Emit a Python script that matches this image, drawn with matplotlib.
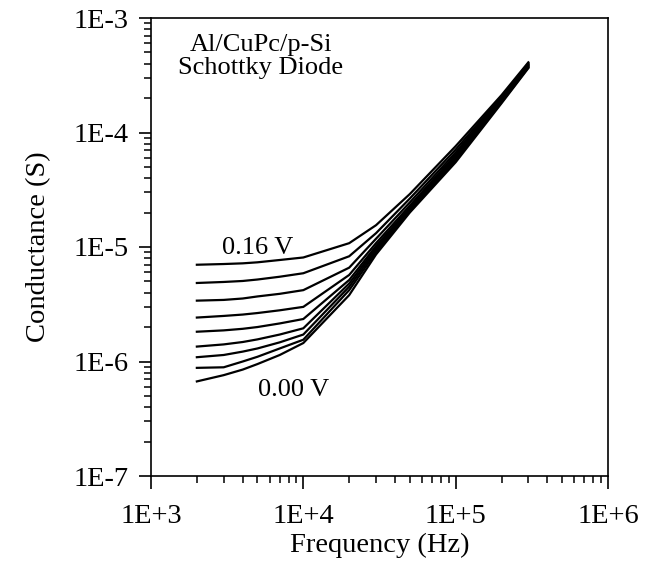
import matplotlib
matplotlib.use("Agg")
import matplotlib.pyplot as plt
from matplotlib.ticker import LogLocator, NullFormatter

plt.rcParams['font.family'] = ['Liberation Serif', 'DejaVu Serif']

freq = [2e3, 3e3, 4e3, 5e3, 7e3, 1e4, 2e4, 3e4, 5e4, 1e5, 2e5, 3e5]
g_016 = [7.0, 7.1, 7.2, 7.35, 7.7, 8.1, 10.8, 15.5, 29, 76, 212, 410]
g_014 = [4.85, 4.95, 5.05, 5.2, 5.5, 5.9, 8.3, 13.2, 26.5, 71, 205, 402]
g_012 = [3.4, 3.45, 3.55, 3.7, 3.9, 4.2, 6.6, 11.8, 24.5, 67, 200, 395]
g_010 = [2.42, 2.5, 2.57, 2.65, 2.8, 3.0, 5.7, 10.8, 23, 64, 196, 390]
g_008 = [1.82, 1.87, 1.93, 2.0, 2.15, 2.35, 5.15, 10.2, 22, 62, 193, 385]
g_006 = [1.35, 1.41, 1.48, 1.56, 1.72, 1.95, 4.8, 9.8, 21.5, 60, 190, 380]
g_004 = [1.09, 1.14, 1.22, 1.3, 1.47, 1.72, 4.5, 9.4, 21, 58, 187, 375]
g_002 = [0.88, 0.89, 1.0, 1.1, 1.3, 1.55, 4.2, 9.0, 20.5, 57, 184, 370]
g_000 = [0.67, 0.76, 0.85, 0.95, 1.14, 1.45, 3.8, 8.6, 20, 55, 180, 365]
series = [g_016, g_014, g_012, g_010, g_008, g_006, g_004, g_002, g_000]
scale = 1e-6

xticks = [1e3, 1e4, 1e5, 1e6]
xticklabels = ['1E+3', '1E+4', '1E+5', '1E+6']
yticks = [1e-7, 1e-6, 1e-5, 1e-4, 1e-3]
yticklabels = ['1E-7', '1E-6', '1E-5', '1E-4', '1E-3']

fig = plt.figure(figsize=(6.59, 5.63), dpi=100)
ax = fig.add_axes([151/659, 1-476/563, (608-151)/659, (476-18)/563])

for s in series:
    ax.plot(freq, [v*scale for v in s], color='black', lw=1.6, solid_joinstyle='miter')

ax.set_xscale('log')
ax.set_yscale('log')
ax.set_xlim(1e3, 1e6)
ax.set_ylim(1e-7, 1e-3)
ax.set_xticks(xticks)
ax.set_xticklabels(xticklabels)
ax.set_yticks(yticks)
ax.set_yticklabels(yticklabels)
ax.xaxis.set_minor_locator(LogLocator(base=10, subs=range(2, 10), numticks=20))
ax.yaxis.set_minor_locator(LogLocator(base=10, subs=range(2, 10), numticks=20))
ax.xaxis.set_minor_formatter(NullFormatter())
ax.yaxis.set_minor_formatter(NullFormatter())

for sp in ax.spines.values():
    sp.set_linewidth(1.2)
ax.tick_params(which='major', direction='out', length=9, width=1.2, labelsize=20.5)
ax.tick_params(axis='x', which='major', pad=11)
ax.tick_params(axis='y', which='major', pad=7)
ax.tick_params(which='minor', direction='out', length=5, width=1.1)

ax.set_xlabel('Frequency (Hz)', fontsize=20.5, labelpad=3)
ax.set_ylabel('Conductance (S)', fontsize=20.5, labelpad=16)

ax.text(2.93e3, 9.8e-6, '0.16 V', fontsize=19, ha='left', va='center')
ax.text(5.06e3, 5.64e-7, '0.00 V', fontsize=19, ha='left', va='center')
ax.text(0.24, 0.965, 'Al/CuPc/p-Si\nSchottky Diode', transform=ax.transAxes,
        fontsize=19, ha='center', va='top', linespacing=1.05, multialignment='center')

fig.savefig('out.png', dpi=100)
